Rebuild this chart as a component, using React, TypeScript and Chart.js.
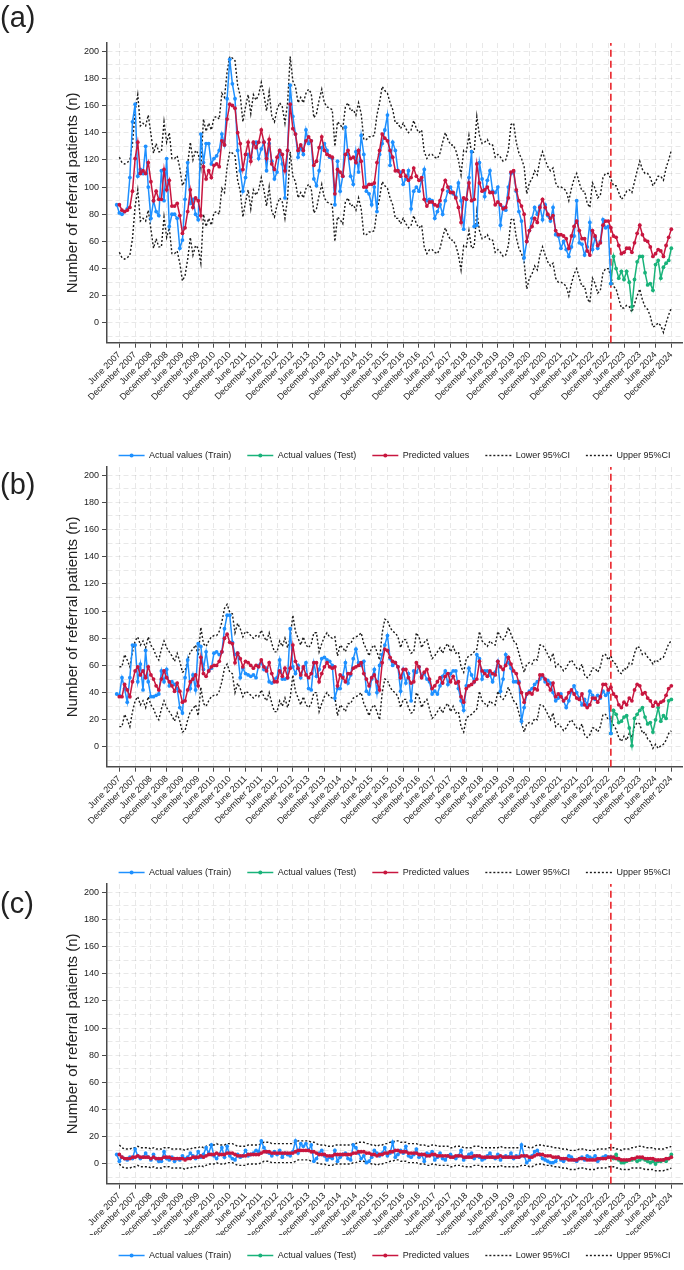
import React, { useEffect, useRef } from "react";
import { Chart, registerables } from "chart.js";
Chart.register(...registerables);

const FONT = "'Liberation Sans', Arial, Helvetica, sans-serif";

const TICK_LABELS = [
  "June 2007", "December 2007", "June 2008", "December 2008", "June 2009", "December 2009",
  "June 2010", "December 2010", "June 2011", "December 2011", "June 2012", "December 2012",
  "June 2013", "December 2013", "June 2014", "December 2014", "June 2015", "December 2015",
  "June 2016", "December 2016", "June 2017", "December 2017", "June 2018", "December 2018",
  "June 2019", "December 2019", "June 2020", "December 2020", "June 2021", "December 2021",
  "June 2022", "December 2022", "June 2023", "December 2023", "June 2024", "December 2024",
];
const Y_TICKS = [-10, 0, 10, 20, 30, 40, 50, 60, 70, 80, 90, 100, 110, 120, 130, 140, 150, 160, 170, 180, 190, 200];

// month index: 0 = June 2007; train starts May 2007 (-1), prediction/CI start June 2007 (0), test starts Jan 2023 (187)
const TRAIN_START = -1;
const PRED_START = 0;
const TEST_START = 187;

// ---------- panel (a) ----------
const A_TRAIN = [87,81,80,82,84,107,148,161,108,113,
110,130,100,77,90,82,79,112,90,121,
71,80,80,77,55,61,91,118,88,91,
80,76,139,118,132,132,117,121,123,127,
139,131,165,194,176,165,127,112,97,107,
124,122,132,133,121,128,133,112,132,119,
106,111,126,117,92,127,175,152,139,122,
129,124,142,132,134,106,101,112,129,132,
127,122,121,87,119,97,108,144,124,108,
102,126,111,138,124,97,95,87,100,82,
124,132,142,153,116,133,127,112,111,102,
106,112,84,97,100,97,105,113,90,91,
90,77,82,87,80,90,97,100,95,93,
103,90,69,91,107,126,71,72,118,106,
93,105,112,97,96,100,72,85,83,100,
110,111,97,82,75,48,60,68,77,85,
80,86,76,87,79,75,85,65,64,55,
60,54,49,56,64,90,59,58,50,56,
74,54,63,55,60,76,70,71,29];
const A_TEST = [29,49,40,33,38,32,38,30,12,32,45,49,49,37,28,29,24,43,46,33,41,44,46,55];
const A_PRED = [87,83,82,83,85,97,121,133,110,112,
110,118,104,90,97,91,91,113,98,105,
86,86,88,79,66,70,82,98,85,92,
90,79,115,106,112,107,116,117,115,134,
131,150,161,160,158,140,132,113,124,133,
119,133,129,133,142,133,121,135,117,113,
122,127,124,112,127,161,143,139,127,131,
127,134,137,134,116,119,129,137,127,124,
123,122,95,113,111,108,124,127,121,122,
118,127,119,100,100,102,102,103,118,127,
139,136,134,127,122,112,112,108,112,108,
105,107,114,108,105,107,91,86,89,89,
87,86,90,98,105,100,96,96,92,85,
74,92,91,103,90,91,117,103,97,98,
100,96,96,87,89,87,84,85,92,111,
112,98,90,86,80,60,68,71,77,74,
85,91,85,80,77,79,68,65,65,64,
62,55,64,71,75,68,62,62,53,50,
68,64,57,59,72,75,75,70,64,63,
57,51,52,55,55,52,59,66,72,65,
61,60,56,49,51,54,53,49,57,63,
69];
const A_UP = [122,118,117,118,120,132,156,168,145,147,
145,153,139,125,132,126,126,148,133,140,
121,121,123,114,101,105,117,133,120,127,
125,114,150,141,147,142,151,152,150,169,
166,185,196,195,193,175,167,148,159,168,
154,168,164,168,177,168,156,170,152,148,
157,162,159,147,162,196,178,174,162,166,
162,169,172,169,151,154,164,172,162,159,
158,157,130,148,146,143,159,162,156,157,
153,162,154,135,135,137,137,138,153,162,
174,171,169,162,157,147,147,143,147,143,
140,142,149,143,140,142,126,121,124,124,
122,121,125,133,140,135,131,131,127,120,
109,127,126,138,125,126,152,138,132,133,
135,131,131,122,124,122,119,120,127,146,
147,133,125,121,115,95,103,106,112,109,
120,126,120,115,112,114,103,100,100,99,
97,90,99,106,110,103,97,97,88,85,
103,99,92,94,107,110,110,
106,101,101,96,91,93,97,98,96,104,112,119,113,110,110,107,101,104,108,108,105,114,120,127];
const A_LOW = [52,48,47,48,50,62,86,98,75,77,
75,83,69,55,62,56,56,78,63,70,
51,51,53,44,31,35,47,63,50,57,
55,44,80,71,77,72,81,82,80,99,
96,115,126,125,123,105,97,78,89,98,
84,98,94,98,107,98,86,100,82,78,
87,92,89,77,92,126,108,104,92,96,
92,99,102,99,81,84,94,102,92,89,
88,87,60,78,76,73,89,92,86,87,
83,92,84,65,65,67,67,68,83,92,
104,101,99,92,87,77,77,73,77,73,
70,72,79,73,70,72,56,51,54,54,
52,51,55,63,70,65,61,61,57,50,
39,57,56,68,55,56,82,68,62,63,
65,61,61,52,54,52,49,50,57,76,
77,63,55,51,45,25,33,36,42,39,
50,56,50,45,42,44,33,30,30,29,
27,20,29,36,40,33,27,27,18,15,
33,29,22,24,37,40,40,
34,27,25,18,11,11,13,12,8,14,20,25,17,12,10,5,-3,-2,0,-2,-7,0,6,11];

// ---------- panel (b) ----------
const B_TRAIN = [39,38,51,43,33,51,75,75,48,61,
42,71,48,37,37,38,39,56,48,57,
45,48,46,43,29,25,51,64,43,53,
42,76,74,57,70,56,58,69,70,68,
70,87,97,97,77,68,69,51,58,54,
53,52,53,51,60,62,57,58,48,47,
50,51,64,50,50,51,87,59,54,60,
51,58,62,43,42,62,52,57,65,66,
64,63,60,36,43,43,52,62,47,53,
65,72,62,60,63,41,39,50,57,40,
60,68,75,82,65,60,62,59,41,57,
47,54,34,56,55,59,52,54,50,48,
39,41,39,45,52,56,46,54,56,56,
43,34,27,45,58,53,48,68,65,50,
56,56,53,48,55,63,41,50,68,62,
58,48,48,48,19,29,39,41,43,46,
48,50,52,48,49,47,40,34,36,39,
34,29,34,41,45,40,36,31,35,31,
41,38,35,38,36,41,38,40,10];
const B_TEST = [10,27,24,18,19,22,23,14,1,21,24,27,29,22,17,18,11,20,29,19,23,21,34,35];
const B_PRED = [37,37,46,42,37,48,56,59,53,56,
51,59,53,50,45,42,50,56,51,48,
45,41,47,41,33,34,42,48,50,53,
45,66,54,52,56,59,60,60,63,70,
80,83,77,76,62,69,65,59,63,62,
60,58,60,59,64,59,56,62,54,48,
48,56,52,58,51,58,75,63,58,53,
59,53,51,54,62,62,48,54,59,62,
59,58,59,45,53,51,48,54,54,58,
59,60,62,54,50,45,51,53,48,42,
62,72,71,66,63,62,59,51,57,57,
51,47,48,62,59,51,55,57,50,43,
45,48,51,47,52,54,48,52,47,48,
37,33,43,45,46,48,50,63,56,54,
52,56,54,53,63,59,57,60,66,61,
56,54,47,40,33,39,40,39,43,42,
53,53,50,46,42,47,37,39,37,34,
36,40,42,39,36,35,39,31,29,31,
36,36,33,37,46,46,42,44,39,37,
31,29,33,31,36,34,42,46,45,39,
40,36,34,30,33,31,33,34,38,43,
45];
const B_UP = [59,59,68,64,59,70,78,81,75,78,
73,81,75,72,67,64,72,78,73,70,
67,63,69,63,55,56,64,70,72,75,
67,88,76,74,78,81,82,82,85,92,
102,105,99,98,84,91,87,81,85,84,
82,80,82,81,86,81,78,84,76,70,
70,78,74,80,73,80,97,85,80,75,
81,75,73,76,84,84,70,76,81,84,
81,80,81,67,75,73,70,76,76,80,
81,82,84,76,72,67,73,75,70,64,
84,94,93,88,85,84,81,73,79,79,
73,69,70,84,81,73,77,79,72,65,
67,70,73,69,74,76,70,74,69,70,
59,55,65,67,68,70,72,85,78,76,
74,78,76,75,85,81,79,82,88,83,
78,76,69,62,55,61,62,61,65,64,
75,75,72,68,64,69,59,61,59,56,
58,62,64,61,58,57,61,53,51,53,
58,58,55,59,68,68,64,
67,62,61,55,54,58,57,62,61,69,74,73,68,69,66,64,61,64,63,65,66,71,76,78];
const B_LOW = [15,15,24,20,15,26,34,37,31,34,
29,37,31,28,23,20,28,34,29,26,
23,19,25,19,11,12,20,26,28,31,
23,44,32,30,34,37,38,38,41,48,
58,61,55,54,40,47,43,37,41,40,
38,36,38,37,42,37,34,40,32,26,
26,34,30,36,29,36,53,41,36,31,
37,31,29,32,40,40,26,32,37,40,
37,36,37,23,31,29,26,32,32,36,
37,38,40,32,28,23,29,31,26,20,
40,50,49,44,41,40,37,29,35,35,
29,25,26,40,37,29,33,35,28,21,
23,26,29,25,30,32,26,30,25,26,
15,11,21,23,24,26,28,41,34,32,
30,34,32,31,41,37,35,38,44,39,
34,32,25,18,11,17,18,17,21,20,
31,31,28,24,20,25,15,17,15,12,
14,18,20,17,14,13,17,9,7,9,
14,14,11,15,24,24,20,
21,16,13,7,4,8,5,10,7,15,18,17,10,11,6,4,-1,2,-1,1,2,5,10,12];

// ---------- panel (c) ----------
const C_TRAIN = [7,2,5,4,3,5,4,11,6,4,
5,8,5,3,7,4,2,2,9,4,
3,5,2,4,3,6,4,5,8,6,
4,9,5,7,12,8,14,6,4,7,
12,5,13,6,4,3,7,5,6,10,
6,7,8,10,9,17,12,9,8,6,
9,7,10,5,8,7,6,9,17,8,
15,13,15,10,14,2,4,8,10,6,
3,5,4,10,2,5,7,8,4,3,
14,12,8,4,6,1,2,5,10,8,
6,8,12,6,8,16,5,7,10,8,
13,6,5,7,11,5,7,2,8,7,
9,3,5,8,4,3,6,7,5,4,
6,10,3,5,7,8,4,6,5,3,
4,6,8,5,4,7,3,5,6,5,
8,4,6,5,14,6,1,3,6,9,
10,7,4,3,2,1,1,2,5,3,
2,4,6,5,3,2,4,5,3,6,
5,4,6,2,4,5,6,5,5];
const C_TEST = [5,4,7,3,1,1,2,3,3,4,2,3,4,3,2,1,2,0,2,2,3,2,4,7];
const C_PRED = [7,5,4,4,4,5,5,6,5,5,
5,5,4,5,4,4,4,5,5,5,
4,4,4,4,4,3,4,4,5,5,
5,6,5,6,7,7,7,8,7,7,
7,8,8,8,7,6,6,6,6,7,
7,7,7,7,8,9,9,9,8,8,
8,8,8,8,8,8,8,9,10,10,
10,10,10,9,9,8,7,7,7,6,
6,6,7,7,7,7,7,7,7,8,
8,9,9,9,8,8,7,7,6,7,
7,8,8,9,9,10,10,9,9,9,
8,8,8,8,7,7,7,6,6,7,
7,6,6,6,6,6,5,5,6,6,
6,5,5,5,5,6,6,6,5,5,
5,5,5,5,5,6,5,5,5,5,
5,5,5,6,6,6,5,5,6,7,
7,7,6,6,6,5,5,5,4,4,
4,3,3,3,3,4,4,4,3,3,
3,3,4,4,4,4,5,5,5,4,
4,3,3,3,3,4,4,5,5,5,
4,4,4,4,3,3,3,3,4,4,
5];
const C_UP = [14,12,11,11,11,12,12,13,12,12,
12,12,11,12,11,11,11,12,12,12,
11,11,11,11,11,10,11,11,12,12,
12,13,12,13,14,14,14,15,14,14,
14,15,15,15,14,13,13,13,13,14,
14,14,14,14,15,16,16,16,15,15,
15,15,15,15,15,15,15,16,17,17,
17,17,17,16,16,15,14,14,14,13,
13,13,14,14,14,14,14,14,14,15,
15,16,16,16,15,15,14,14,13,14,
14,15,15,16,16,17,17,16,16,16,
15,15,15,15,14,14,14,13,13,14,
14,13,13,13,13,13,12,12,13,13,
13,12,12,12,12,13,13,13,12,12,
12,12,12,12,12,13,12,12,12,12,
12,12,12,13,13,13,12,12,13,14,
14,14,13,13,13,12,12,12,11,11,
11,10,10,10,10,11,11,11,10,10,
10,10,11,11,11,11,12,12,12,11,
11,10,11,11,11,12,12,13,13,13,
12,12,12,12,11,11,11,11,12,12,
13];
const C_LOW = [0,-2,-3,-3,-3,-2,-2,-1,-2,-2,
-2,-2,-3,-2,-3,-3,-3,-2,-2,-2,
-3,-3,-3,-3,-3,-4,-3,-3,-2,-2,
-2,-1,-2,-1,0,0,0,1,0,0,
0,1,1,1,0,-1,-1,-1,-1,0,
0,0,0,0,1,2,2,2,1,1,
1,1,1,1,1,1,1,2,3,3,
3,3,3,2,2,1,0,0,0,-1,
-1,-1,0,0,0,0,0,0,0,1,
1,2,2,2,1,1,0,0,-1,0,
0,1,1,2,2,3,3,2,2,2,
1,1,1,1,0,0,0,-1,-1,0,
0,-1,-1,-1,-1,-1,-2,-2,-1,-1,
-1,-2,-2,-2,-2,-1,-1,-1,-2,-2,
-2,-2,-2,-2,-2,-1,-2,-2,-2,-2,
-2,-2,-2,-1,-1,-1,-2,-2,-1,0,
0,0,-1,-1,-1,-2,-2,-2,-3,-3,
-3,-4,-4,-4,-4,-3,-3,-3,-4,-4,
-4,-4,-3,-3,-3,-3,-2,-2,-2,-3,
-3,-4,-4,-4,-4,-3,-3,-3,-3,-3,
-4,-4,-4,-4,-5,-5,-5,-5,-4,-4,
-3];

const X_MIN = -4.7;
const X_MAX = 214.1;
const Y_MIN = -14.5;
const Y_MAX = 206;

const BLUE = "#1E90FF";
const GREEN = "#19B37A";
const RED = "#C8163F";
const CI = "#1a1a1a";
const VLINE = "#E8141B";
const GRID = "rgba(0,0,0,0.09)";
const AXIS = "#4a4a4a";

const pts = (arr: number[], start: number) => arr.map((y, i) => ({ x: start + i, y }));

const legendShift = {
  id: "legendShift",
  afterLayout(chart: any) {
    const lg = chart.legend;
    if (lg) {
      lg.left += 53;
      lg.right += 53;
    }
  },
};

const legendDots = {
  id: "legendDots",
  afterDraw(chart: any) {
    const lg = chart.legend;
    if (!lg || !lg.legendHitBoxes || !lg.legendItems) return;
    const ctx = chart.ctx;
    lg.legendItems.forEach((item: any, i: number) => {
      if (item.datasetIndex > 2) return;
      const hb = lg.legendHitBoxes[i];
      if (!hb) return;
      const ds = chart.data.datasets[item.datasetIndex];
      ctx.save();
      ctx.fillStyle = ds.borderColor;
      ctx.beginPath();
      ctx.arc(hb.left + 13, hb.top + 4.5, 2, 0, Math.PI * 2);
      ctx.fill();
      ctx.restore();
    });
  },
};

type PanelProps = {
  top: number;
  height: number;
  axisHeight: number;
  train: number[];
  test: number[];
  pred: number[];
  low: number[];
  up: number[];
};

function Panel({ top, height, axisHeight, train, test, pred, low, up }: PanelProps) {
  const ref = useRef<HTMLCanvasElement | null>(null);
  useEffect(() => {
    const canvas = ref.current;
    if (!canvas) return;
    const marker = (c: string) => ({
      borderColor: c,
      backgroundColor: c,
      pointBackgroundColor: c,
      pointBorderColor: c,
      borderWidth: 1.5,
      pointRadius: 1.9,
      pointBorderWidth: 0,
      pointHoverRadius: 0,
      tension: 0,
      fill: false,
    });
    const chart = new Chart(canvas, {
      type: "line",
      data: {
        datasets: [
          { label: "Actual values (Train)", data: pts(train, TRAIN_START), ...marker(BLUE), order: 1 },
          { label: "Actual values (Test)", data: pts(test, TEST_START), ...marker(GREEN), order: 2 },
          { label: "Predicted values", data: pts(pred, PRED_START), ...marker(RED), order: 0 },
          {
            label: "Lower 95%CI", data: pts(low, PRED_START), borderColor: CI, backgroundColor: CI,
            borderDash: [2, 2], borderWidth: 1.4, pointRadius: 0, tension: 0, fill: false, order: 3,
          },
          {
            label: "Upper 95%CI", data: pts(up, PRED_START), borderColor: CI, backgroundColor: CI,
            borderDash: [2, 2], borderWidth: 1.4, pointRadius: 0, tension: 0, fill: false, order: 4,
          },
          {
            label: "split", data: [{ x: TEST_START, y: Y_MIN }, { x: TEST_START, y: Y_MAX }],
            borderColor: VLINE, backgroundColor: VLINE, borderDash: [7, 4], borderWidth: 1.5,
            pointRadius: 0, tension: 0, fill: false, order: 5,
          },
        ],
      } as any,
      options: {
        responsive: false,
        animation: false,
        devicePixelRatio: 1,
        events: [],
        layout: { padding: { left: 0, right: 1, top: 43, bottom: 0 } },
        plugins: {
          legend: {
            display: true,
            position: "bottom",
            labels: {
              usePointStyle: true,
              pointStyle: "line",
              pointStyleWidth: 26,
              padding: 16,
              color: "#222",
              font: { family: FONT, size: 9 },
              generateLabels: (ch: any) => {
                const base = (Chart.defaults as any).plugins.legend.labels.generateLabels(ch);
                return base.map((it: any) => {
                  const ds = ch.data.datasets[it.datasetIndex];
                  return {
                    ...it,
                    strokeStyle: ds.borderColor,
                    fillStyle: ds.borderColor,
                    lineWidth: ds.borderWidth,
                    lineDash: ds.borderDash || [],
                    pointStyle: "line",
                  };
                });
              },
              filter: (it: any) => it.datasetIndex < 5,
              sort: (a: any, b: any) => a.datasetIndex - b.datasetIndex,
            },
          },
          tooltip: { enabled: false },
          title: { display: false },
        },
        scales: {
          x: {
            type: "linear",
            min: X_MIN,
            max: X_MAX,
            afterBuildTicks: (s: any) => {
              s.ticks = TICK_LABELS.map((_, i) => ({ value: i * 6 }));
            },
            afterFit: (s: any) => {
              s.height = axisHeight;
            },
            ticks: {
              autoSkip: false,
              minRotation: 45,
              maxRotation: 45,
              padding: 2,
              color: "#222",
              font: { family: FONT, size: 9 },
              callback: (_v: any, i: number) => TICK_LABELS[i],
            },
            grid: { color: GRID, lineWidth: 1, drawTicks: true, tickLength: 5, tickColor: AXIS, tickWidth: 1 },
            border: { display: true, color: AXIS, width: 1.5, dash: [5, 3] },
          },
          y: {
            type: "linear",
            min: Y_MIN,
            max: Y_MAX,
            afterBuildTicks: (s: any) => {
              s.ticks = Y_TICKS.map((v) => ({ value: v }));
            },
            afterFit: (s: any) => {
              s.width = 107;
            },
            ticks: {
              autoSkip: false,
              padding: 3,
              color: "#222",
              font: { family: FONT, size: 9 },
              callback: (v: any) => (Number(v) % 20 === 0 ? String(v) : ""),
            },
            grid: {
              color: GRID,
              lineWidth: 1,
              tickLength: 5,
              tickWidth: 1,
              tickColor: (c: any) => (c.tick && c.tick.value % 20 === 0 ? AXIS : "rgba(0,0,0,0)"),
            },
            border: { display: true, color: AXIS, width: 1.5, dash: [5, 3] },
            title: {
              display: true,
              text: "Number of referral patients (n)",
              color: "#222",
              font: { family: FONT, size: 15 },
              padding: { top: 64, bottom: 0 },
            },
          },
        },
      } as any,
      plugins: [legendShift, legendDots],
    });
    return () => chart.destroy();
  }, []);
  return (
    <canvas
      ref={ref}
      width={684}
      height={height}
      style={{ position: "absolute", left: 0, top, width: 684, height, display: "block" }}
    />
  );
}

const labelStyle = (top: number): React.CSSProperties => ({
  position: "absolute",
  left: 0,
  top,
  fontFamily: FONT,
  fontSize: 29,
  lineHeight: "29px",
  color: "#222",
});

export default function App() {
  return (
    <div style={{ position: "absolute", left: 0, top: 0, width: 684, height: 1270, overflow: "hidden", background: "#fff" }}>
      <Panel top={0} height={470} axisHeight={92.3} train={A_TRAIN} test={A_TEST} pred={A_PRED} low={A_LOW} up={A_UP} />
      <Panel top={424} height={463} axisHeight={85.3} train={B_TRAIN} test={B_TEST} pred={B_PRED} low={B_LOW} up={B_UP} />
      <Panel top={841} height={429} axisHeight={51.3} train={C_TRAIN} test={C_TEST} pred={C_PRED} low={C_LOW} up={C_UP} />
      <div style={labelStyle(3)}>(a)</div>
      <div style={labelStyle(470)}>(b)</div>
      <div style={labelStyle(889)}>(c)</div>
    </div>
  );
}
